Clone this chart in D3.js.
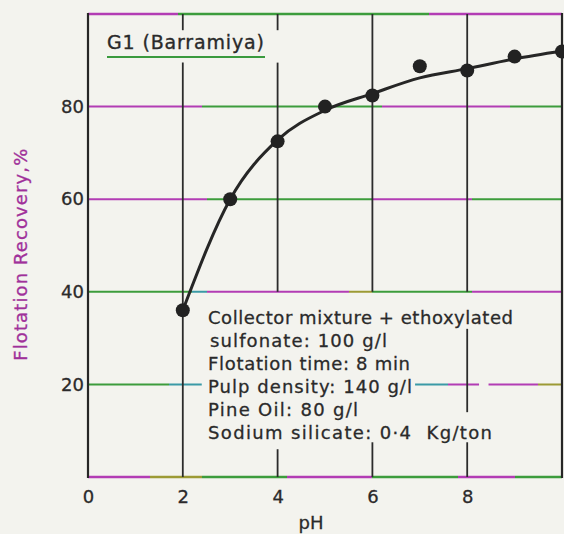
<!DOCTYPE html>
<html>
<head>
<meta charset="utf-8">
<script src="https://cdn.jsdelivr.net/npm/d3@7"></script>
<style>
  html, body { margin: 0; padding: 0; background: #f3f3ee; }
  svg { display: block; }
  text { font-family: "DejaVu Sans", sans-serif; fill: #2a2a2a; }
</style>
</head>
<body>
<svg class="chart" width="564" height="534"></svg>
<script>
// measured points (pH, recovery %)
const phValues = [2, 3, 4, 5, 6, 7, 8, 9, 10];
const recovery = [36, 60, 72.5, 80, 82.4, 88.7, 87.8, 90.8, 91.9];

// hand-drawn fitted curve
const curvePh = [2, 3, 4, 5, 6, 7, 8, 9, 10];
const curveRecovery = [36, 60, 72.8, 79.2, 82.8, 86.2, 88.2, 90.3, 92];

const xTicks = [0, 2, 4, 6, 8];
const yTicks = [20, 40, 60, 80];
const hGrid = [0, 20, 40, 60, 80, 100];
const vGrid = [2, 4, 6, 8];

const titleText = "G1 (Barramiya)";
const noteLines = [
  "Collector mixture + ethoxylated",
  "sulfonate: 100 g/l",
  "Flotation time: 8 min",
  "Pulp density: 140 g/l",
  "Pine Oil: 80 g/l",
  "Sodium silicate: 0·4  Kg/ton"
];
const noteWidths = [305, 177, 202, 204, 150, 284];

(() => {
  const svg = d3.select(".chart");

  const x = d3.scaleLinear().domain([0, 10]).range([88, 562]);
  const y = d3.scaleLinear().domain([0, 100]).range([477, 14]);

  // scanned lines pick up green / magenta fringes
  const M = "#b23cb4", G = "#3c9c3c", C = "#3a9aa6", O = "#9c9a34";
  const fringe = {
    0: [[0, M], [0.13, O], [0.24, G], [0.42, M], [0.6, G], [0.78, M], [0.9, G]],
    20: [[0, G], [0.17, C], [0.76, M], [0.95, O]],
    40: [[0, G], [0.22, C], [0.25, M], [0.55, O], [0.6, G], [0.81, M]],
    60: [[0, M], [0.25, G], [0.6, M], [0.81, G]],
    80: [[0, M], [0.24, G], [0.62, M], [0.89, G]],
    100: [[0, M], [0.19, G], [0.72, M]]
  };

  const defs = svg.append("defs");
  hGrid.forEach((v) => {
    const grad = defs
      .append("linearGradient")
      .attr("id", `fr${v}`)
      .attr("gradientUnits", "userSpaceOnUse")
      .attr("x1", x(0))
      .attr("x2", x(10))
      .attr("y1", 0)
      .attr("y2", 0);
    const stops = fringe[v];
    stops.forEach(([o, c], i) => {
      const end = i < stops.length - 1 ? stops[i + 1][0] : 1;
      grad.append("stop").attr("offset", o).attr("stop-color", c);
      grad.append("stop").attr("offset", end).attr("stop-color", c);
    });
  });

  // horizontal grid (the 20 line is broken by the note text)
  const hSpans = { 20: [[0, 2.4], [6.9, 8.25], [8.45, 10]] };
  const grid = svg.append("g").attr("class", "grid");
  hGrid.forEach((v) => {
    (hSpans[v] || [[0, 10]]).forEach(([a, b]) => {
      grid
        .append("line")
        .attr("x1", x(a))
        .attr("x2", x(b))
        .attr("y1", y(v))
        .attr("y2", y(v))
        .attr("stroke", `url(#fr${v})`)
        .attr("stroke-width", v === 0 || v === 100 ? 2.4 : 2);
    });
  });

  // vertical grid, with gaps around title and note
  const vSpans = {
    2: [[0, 89.5], [96.5, 100]],
    4: [[0, 6], [40, 89.5], [96.5, 100]],
    6: [[0, 7.5], [40, 100]],
    8: [[0, 7.5], [14, 32], [40, 100]]
  };
  vGrid.forEach((v) => {
    vSpans[v].forEach(([a, b]) => {
      grid
        .append("line")
        .attr("x1", x(v))
        .attr("x2", x(v))
        .attr("y1", y(a))
        .attr("y2", y(b))
        .attr("stroke", "#2b2b2b")
        .attr("stroke-width", 1.8);
    });
  });

  // left and right frame
  [0, 10].forEach((v) => {
    grid
      .append("line")
      .attr("x1", x(v))
      .attr("x2", x(v))
      .attr("y1", y(0) + 1)
      .attr("y2", y(100) - 1)
      .attr("stroke", "#262626")
      .attr("stroke-width", 2.2);
  });

  // axes: labels only
  const xAxis = svg
    .append("g")
    .attr("transform", `translate(0,${y(0)})`)
    .call(d3.axisBottom(x).tickValues(xTicks).tickSize(0).tickPadding(13));
  const yAxis = svg
    .append("g")
    .attr("transform", `translate(${x(0)},0)`)
    .call(d3.axisLeft(y).tickValues(yTicks).tickSize(0).tickPadding(4));
  [xAxis, yAxis].forEach((g) => {
    g.select(".domain").remove();
    g.selectAll("text")
      .attr("font-family", "DejaVu Sans, sans-serif")
      .attr("font-size", 18)
      .attr("fill", "#2e2a2e")
      .attr("stroke", "#2e2a2e")
      .attr("stroke-width", 0.3);
  });

  svg
    .append("text")
    .attr("x", 311)
    .attr("y", 529)
    .attr("text-anchor", "middle")
    .attr("font-size", 18)
    .attr("stroke", "#2a2a2a")
    .attr("stroke-width", 0.3)
    .text("pH");

  svg
    .append("text")
    .attr("transform", `translate(27,${y(48)}) rotate(-90)`)
    .attr("text-anchor", "middle")
    .attr("font-size", 18)
    .attr("textLength", 212)
    .attr("lengthAdjust", "spacing")
    .style("fill", "#a0309a")
    .attr("stroke", "#a0309a")
    .attr("stroke-width", 0.3)
    .text("Flotation Recovery,%");

  // title with underline
  svg
    .append("text")
    .attr("x", 107)
    .attr("y", 49)
    .attr("font-size", 19)
    .attr("textLength", 157)
    .attr("lengthAdjust", "spacing")
    .attr("stroke", "#2a2a2a")
    .attr("stroke-width", 0.35)
    .text(titleText);
  svg
    .append("line")
    .attr("x1", 107)
    .attr("x2", 265)
    .attr("y1", 57)
    .attr("y2", 57)
    .attr("stroke", "#3a9a3e")
    .attr("stroke-width", 2.2);

  // fitted curve
  const line = d3
    .line()
    .x((d) => x(d[0]))
    .y((d) => y(d[1]))
    .curve(d3.curveMonotoneX);
  svg
    .append("path")
    .datum(d3.zip(curvePh, curveRecovery))
    .attr("d", line)
    .attr("fill", "none")
    .attr("stroke", "#262626")
    .attr("stroke-width", 3);

  svg
    .append("g")
    .selectAll("circle")
    .data(d3.zip(phValues, recovery))
    .enter()
    .append("circle")
    .attr("cx", (d) => x(d[0]))
    .attr("cy", (d) => y(d[1]))
    .attr("r", 7)
    .attr("fill", "#222");

  // conditions note
  svg
    .append("g")
    .selectAll("text")
    .data(noteLines)
    .enter()
    .append("text")
    .attr("x", (d, i) => (i === 1 ? 210 : 208))
    .attr("y", (d, i) => 324 + i * 23)
    .attr("font-size", 18)
    .attr("textLength", (d, i) => noteWidths[i])
    .attr("lengthAdjust", "spacing")
    .attr("stroke", "#2a2a2a")
    .attr("stroke-width", 0.3)
    .attr("xml:space", "preserve")
    .style("white-space", "pre")
    .text((d) => d);
})();
</script>
</body>
</html>
